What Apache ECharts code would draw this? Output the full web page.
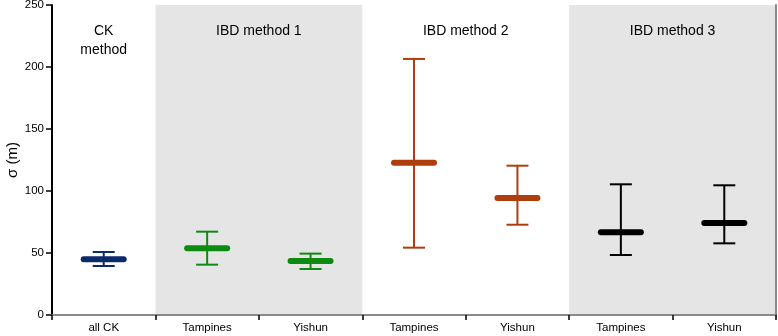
<!DOCTYPE html>
<html>
<head>
<meta charset="utf-8">
<script src="https://cdn.jsdelivr.net/npm/echarts@6/dist/echarts.min.js"></script>
<style>html,body{margin:0;padding:0;background:#fff}#c{width:778px;height:336px}</style>
</head>
<body>
<div id="c"></div>
<script>
const categories = ['all CK', 'Tampines', 'Yishun', 'Tampines', 'Yishun', 'Tampines', 'Yishun'];
const means  = [45.0, 53.8, 43.5, 122.8, 94.4, 66.7, 74.2];
const lowers = [39.5, 40.6, 37.1, 54.3, 72.8, 48.4, 57.8];
const uppers = [50.8, 67.2, 49.5, 206.5, 120.4, 105.4, 104.6];
const pointColors = ['#0b2a6c', '#0d8a10', '#0d8a10', '#b03e0c', '#b03e0c', '#000000', '#000000'];
const groupLabels = ['CK\nmethod', 'IBD method 1', 'IBD method 2', 'IBD method 3'];
const groupStart = [0, 1, 3, 5];
const groupEnd = [0, 2, 4, 6];
const groupShaded = [false, true, false, true];
const yTicks = [0, 50, 100, 150, 200, 250];

const FONT = 'Liberation Sans, Arial, Helvetica, sans-serif';
const chart = echarts.init(document.getElementById('c'), null, {renderer: 'canvas'});

const bandData = groupLabels.map((l, i) => [groupStart[i], groupEnd[i], groupShaded[i] ? 1 : 0, i]);
const pointData = categories.map((c, i) => [i, means[i], lowers[i], uppers[i]]);

const option = {
  backgroundColor: '#ffffff',
  animation: false,
  grid: {left: 52, right: 2, top: 5, bottom: 21, containLabel: false, outerBoundsMode: 'none'},
  xAxis: [{
    type: 'category', data: categories, boundaryGap: true, z: 5,
    axisLine: {lineStyle: {color: '#000', width: 2}},
    axisTick: {show: true, length: 5, lineStyle: {color: '#000', width: 1.5}, interval: 0},
    axisLabel: {color: '#000', fontSize: 11.5, fontFamily: FONT, margin: 7, interval: 0},
    splitLine: {show: false}
  }, {
    type: 'category', data: categories, position: 'top', z: 5,
    axisLine: {show: true, lineStyle: {color: '#8a8a8a', width: 2}},
    axisTick: {show: false}, axisLabel: {show: false}, splitLine: {show: false}
  }],
  yAxis: [{
    type: 'value', min: yTicks[0], max: yTicks[yTicks.length - 1], interval: 50, z: 5,
    name: 'σ (m)', nameLocation: 'middle', nameGap: 32, nameMoveOverlap: false,
    nameTextStyle: {color: '#000', fontSize: 15, fontFamily: FONT},
    axisLine: {show: true, lineStyle: {color: '#000', width: 2}},
    axisTick: {show: true, length: 6, lineStyle: {color: '#000', width: 1.5}},
    axisLabel: {color: '#000', fontSize: 11.5, fontFamily: FONT, margin: 8},
    splitLine: {show: false}
  }, {
    type: 'value', min: yTicks[0], max: yTicks[yTicks.length - 1], position: 'right', z: 5,
    axisLine: {show: true, lineStyle: {color: '#8a8a8a', width: 2}},
    axisTick: {show: false}, axisLabel: {show: false}, splitLine: {show: false}
  }],
  series: [{
    type: 'custom', z: 1, silent: true,
    data: bandData,
    renderItem: function (params, api) {
      const s = api.value(0), e = api.value(1), shaded = api.value(2), gi = api.value(3);
      const bw = api.size([1, 0])[0];
      const p0 = api.coord([s, 250]);
      const p1 = api.coord([e, 0]);
      const x0 = p0[0] - bw / 2, x1 = p1[0] + bw / 2;
      const children = [];
      if (shaded) {
        children.push({type: 'rect', shape: {x: x0, y: p0[1], width: x1 - x0, height: p1[1] - p0[1]},
          style: {fill: '#e5e5e5'}});
      }
      children.push({type: 'text', style: {
        text: groupLabels[gi], x: (x0 + x1) / 2, y: p0[1] + 17,
        align: 'center', verticalAlign: 'top', fontSize: 14, lineHeight: 19,
        fontFamily: FONT, fill: '#000'
      }});
      return {type: 'group', children: children};
    }
  }, {
    type: 'custom', z: 3, silent: true,
    data: pointData,
    renderItem: function (params, api) {
      const i = api.value(0);
      const pm = api.coord([i, api.value(1)]);
      const pl = api.coord([i, api.value(2)]);
      const pu = api.coord([i, api.value(3)]);
      const col = pointColors[params.dataIndex];
      const cx = pm[0];
      const capH = 11, meanH = 20;
      return {type: 'group', children: [
        {type: 'line', shape: {x1: cx, y1: pl[1], x2: cx, y2: pu[1]}, style: {stroke: col, lineWidth: 2}},
        {type: 'line', shape: {x1: cx - capH, y1: pl[1], x2: cx + capH, y2: pl[1]}, style: {stroke: col, lineWidth: 2}},
        {type: 'line', shape: {x1: cx - capH, y1: pu[1], x2: cx + capH, y2: pu[1]}, style: {stroke: col, lineWidth: 2}},
        {type: 'line', shape: {x1: cx - meanH, y1: pm[1], x2: cx + meanH, y2: pm[1]}, style: {stroke: col, lineWidth: 6, lineCap: 'round'}}
      ]};
    }
  }]
};
chart.setOption(option);
</script>
</body>
</html>
